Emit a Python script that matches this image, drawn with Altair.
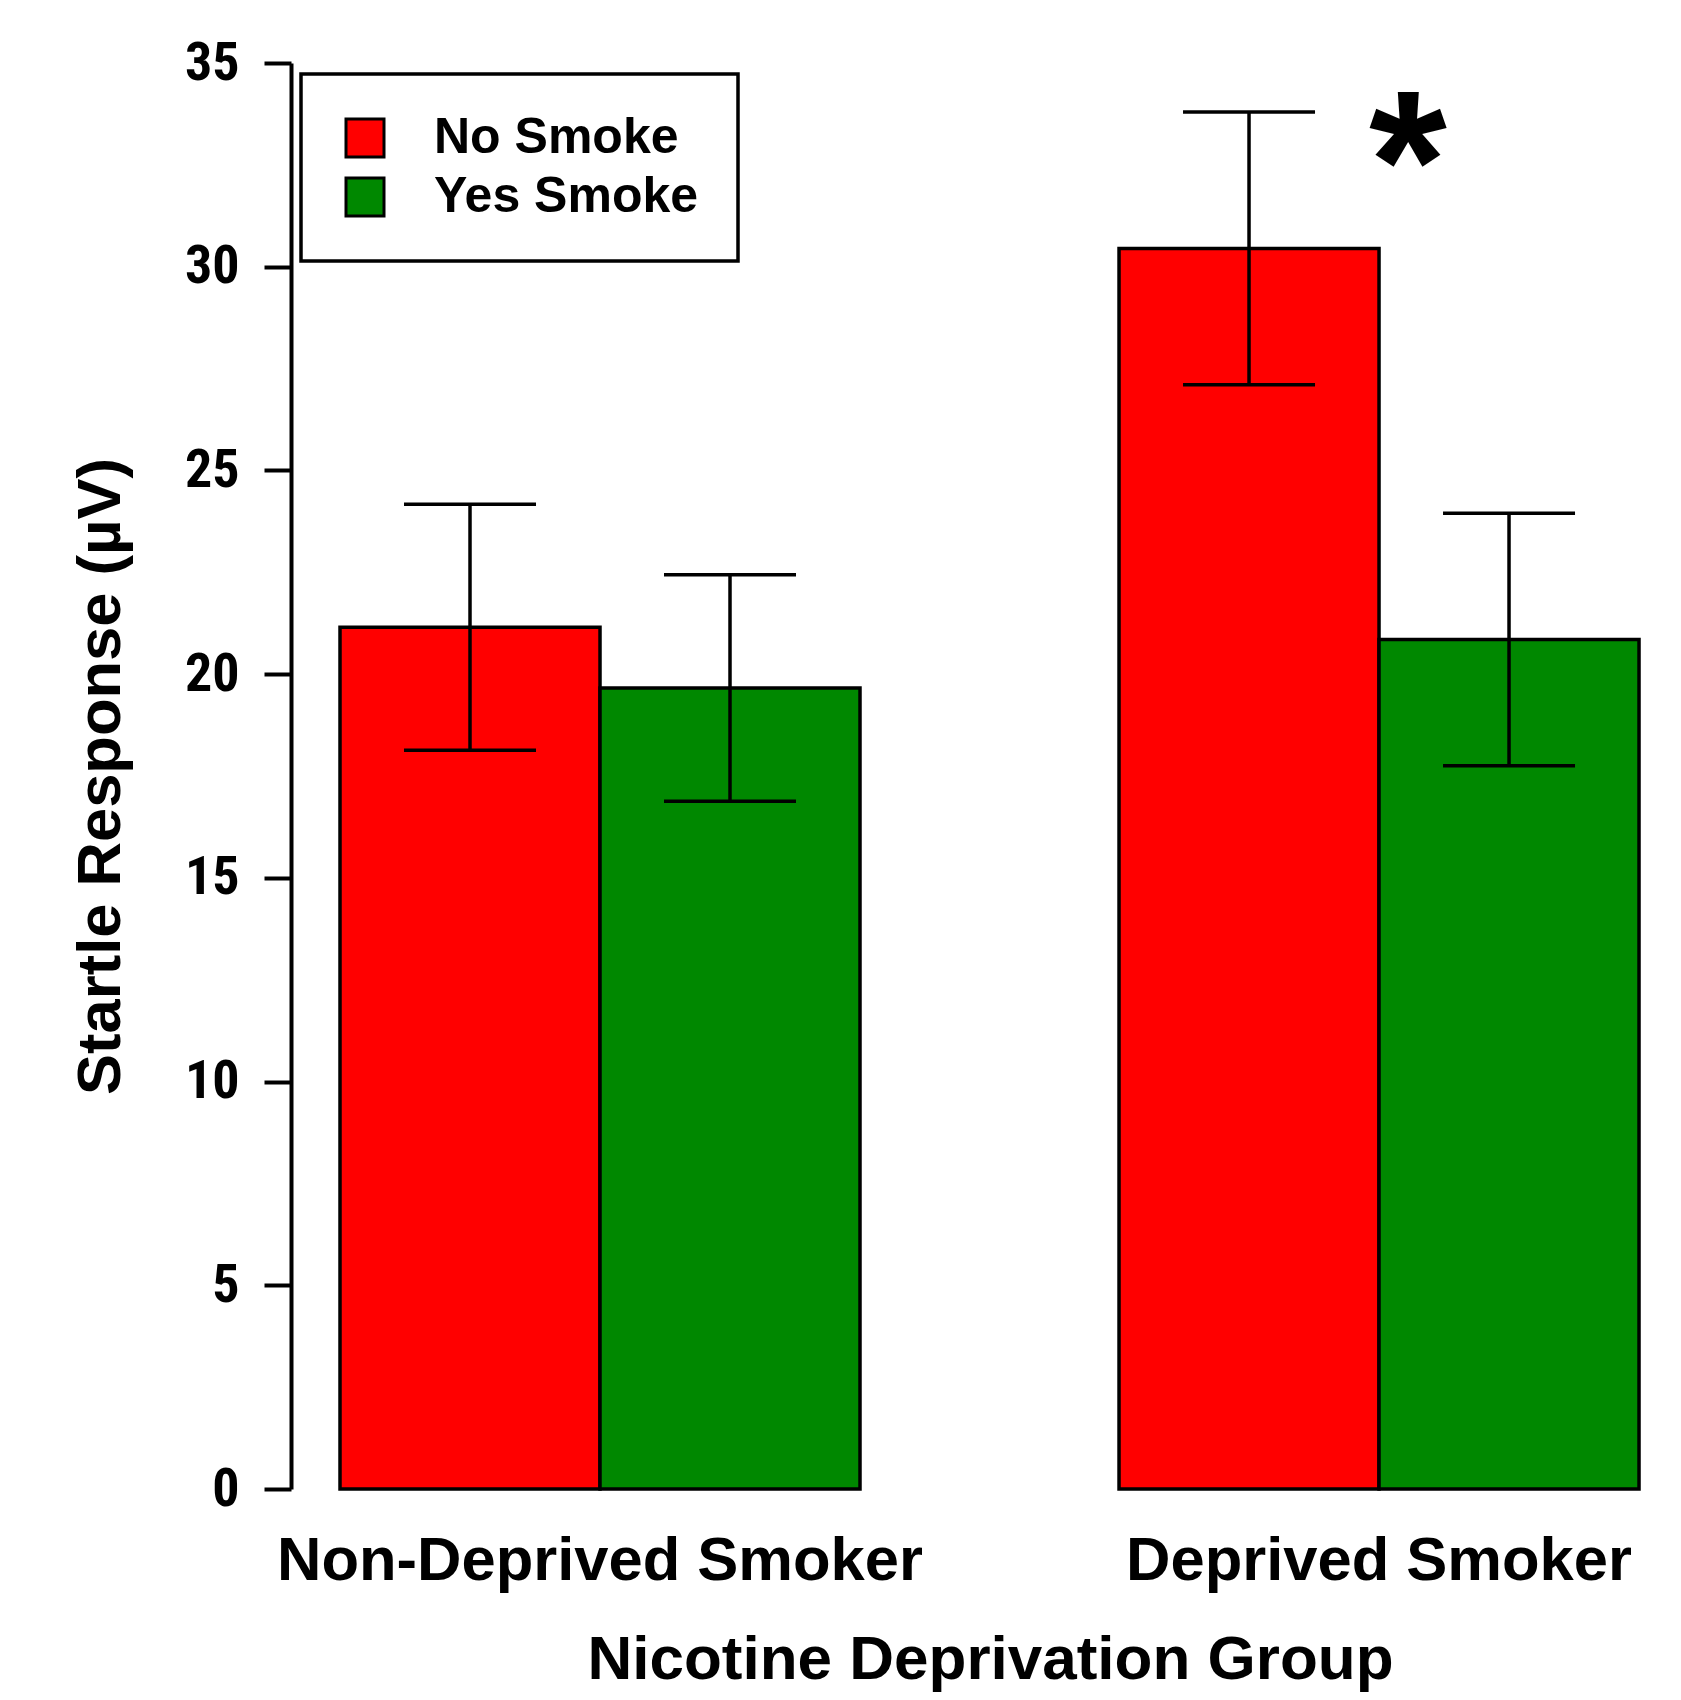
import altair as alt
import pandas as pd

groups = ["Non-Deprived Smoker", "Deprived Smoker"]
conditions = ["No Smoke", "Yes Smoke"]
group_col = ["Non-Deprived Smoker", "Non-Deprived Smoker", "Deprived Smoker", "Deprived Smoker"]
cond_col = ["No Smoke", "Yes Smoke", "No Smoke", "Yes Smoke"]
means = [21.15, 19.66, 30.45, 20.85]
errors = [3.02, 2.78, 3.35, 3.10]
colors = ["#FF0000", "#008800"]
star_group = ["Deprived Smoker"]
star_value = [32.38]

df = pd.DataFrame({
    "group": group_col,
    "cond": cond_col,
    "mean": means,
    "lo": [m - e for m, e in zip(means, errors)],
    "hi": [m + e for m, e in zip(means, errors)],
})
star_df = pd.DataFrame({"group": star_group, "y": star_value, "t": ["*"]})

FONT = "Liberation Sans"
NARROW = "Roboto Condensed"

xscale = alt.Scale(domain=groups, paddingInner=0.3325, paddingOuter=0.0385, align=0.817)
xoff_scale = alt.Scale(domain=conditions, paddingInner=0, paddingOuter=0)
yscale = alt.Scale(domain=[0, 35], nice=False, zero=True)

x_enc = alt.X(
    "group:N", scale=xscale, sort=groups,
    axis=alt.Axis(
        title="Nicotine Deprivation Group", domain=False, ticks=False, tickSize=0,
        labelFont=FONT, labelFontSize=61.5, labelFontWeight="bold", labelColor="black",
        labelPadding=41, labelAngle=0, labelBaseline="top", labelLimit=0,
        titleFont=FONT, titleFontSize=62, titleFontWeight="bold", titleColor="black",
        titleX=699, titleY=189, titleBaseline="alphabetic", titleAlign="center",
        titleLimit=0,
    ),
)
y_axis = alt.Axis(
    title="Startle Response (µV)", values=[0, 5, 10, 15, 20, 25, 30, 35], grid=False,
    domainColor="black", domainWidth=4, tickColor="black", tickWidth=4, tickSize=27,
    labelFont=NARROW, labelFontSize=54, labelFontWeight="bold", labelColor="black",
    labelPadding=25, labelLimit=0,
    titleFont=FONT, titleFontSize=61.5, titleFontWeight="bold", titleColor="black",
    titleX=-172, titleY=713, titleBaseline="alphabetic", titleAngle=270, titleLimit=0,
)

base = alt.Chart(df)

bars = base.mark_bar(stroke="black", strokeWidth=3.5, opacity=1).encode(
    x=x_enc,
    xOffset=alt.XOffset("cond:N", scale=xoff_scale, sort=conditions),
    y=alt.Y("mean:Q", scale=yscale, axis=y_axis),
    fill=alt.Fill(
        "cond:N", scale=alt.Scale(domain=conditions, range=colors),
        legend=alt.Legend(
            title=None, orient="none", legendX=10, legendY=11,
            strokeColor="black", padding=39, fillColor="white",
            symbolType="square", symbolSize=1444, symbolStrokeColor="black",
            symbolStrokeWidth=3, symbolOpacity=1,
            labelFont=FONT, labelFontSize=50, labelFontWeight="bold", labelColor="black",
            labelOffset=44, rowPadding=9, labelLimit=0,
        ),
    ),
)

rules = base.mark_rule(color="black", strokeWidth=3.5).encode(
    x=alt.X("group:N", scale=xscale, sort=groups),
    xOffset=alt.XOffset("cond:N", scale=xoff_scale, sort=conditions),
    y=alt.Y("lo:Q", scale=yscale),
    y2="hi:Q",
)
caps_hi = base.mark_tick(color="black", size=132, thickness=3.5, opacity=1).encode(
    x=alt.X("group:N", scale=xscale, sort=groups),
    xOffset=alt.XOffset("cond:N", scale=xoff_scale, sort=conditions),
    y=alt.Y("hi:Q", scale=yscale),
)
caps_lo = base.mark_tick(color="black", size=132, thickness=3.5, opacity=1).encode(
    x=alt.X("group:N", scale=xscale, sort=groups),
    xOffset=alt.XOffset("cond:N", scale=xoff_scale, sort=conditions),
    y=alt.Y("lo:Q", scale=yscale),
)

star = alt.Chart(star_df).mark_text(
    font=FONT, fontSize=200, fontWeight="bold", color="black", dx=29, baseline="middle"
).encode(
    x=alt.X("group:N", scale=xscale, sort=groups),
    y=alt.Y("y:Q", scale=yscale),
    text="t:N",
)

chart = alt.layer(bars, rules, caps_hi, caps_lo, star).properties(
    width=1359, height=1426,
    padding={"left": 283, "top": 55, "right": 20, "bottom": 210},
    autosize=alt.AutoSizeParams(type="none"),
    background="white",
).configure_view(stroke=None).configure_legend(strokeWidth=3.5)

chart.save("out.html", embed_options={"renderer": "svg", "actions": False})
